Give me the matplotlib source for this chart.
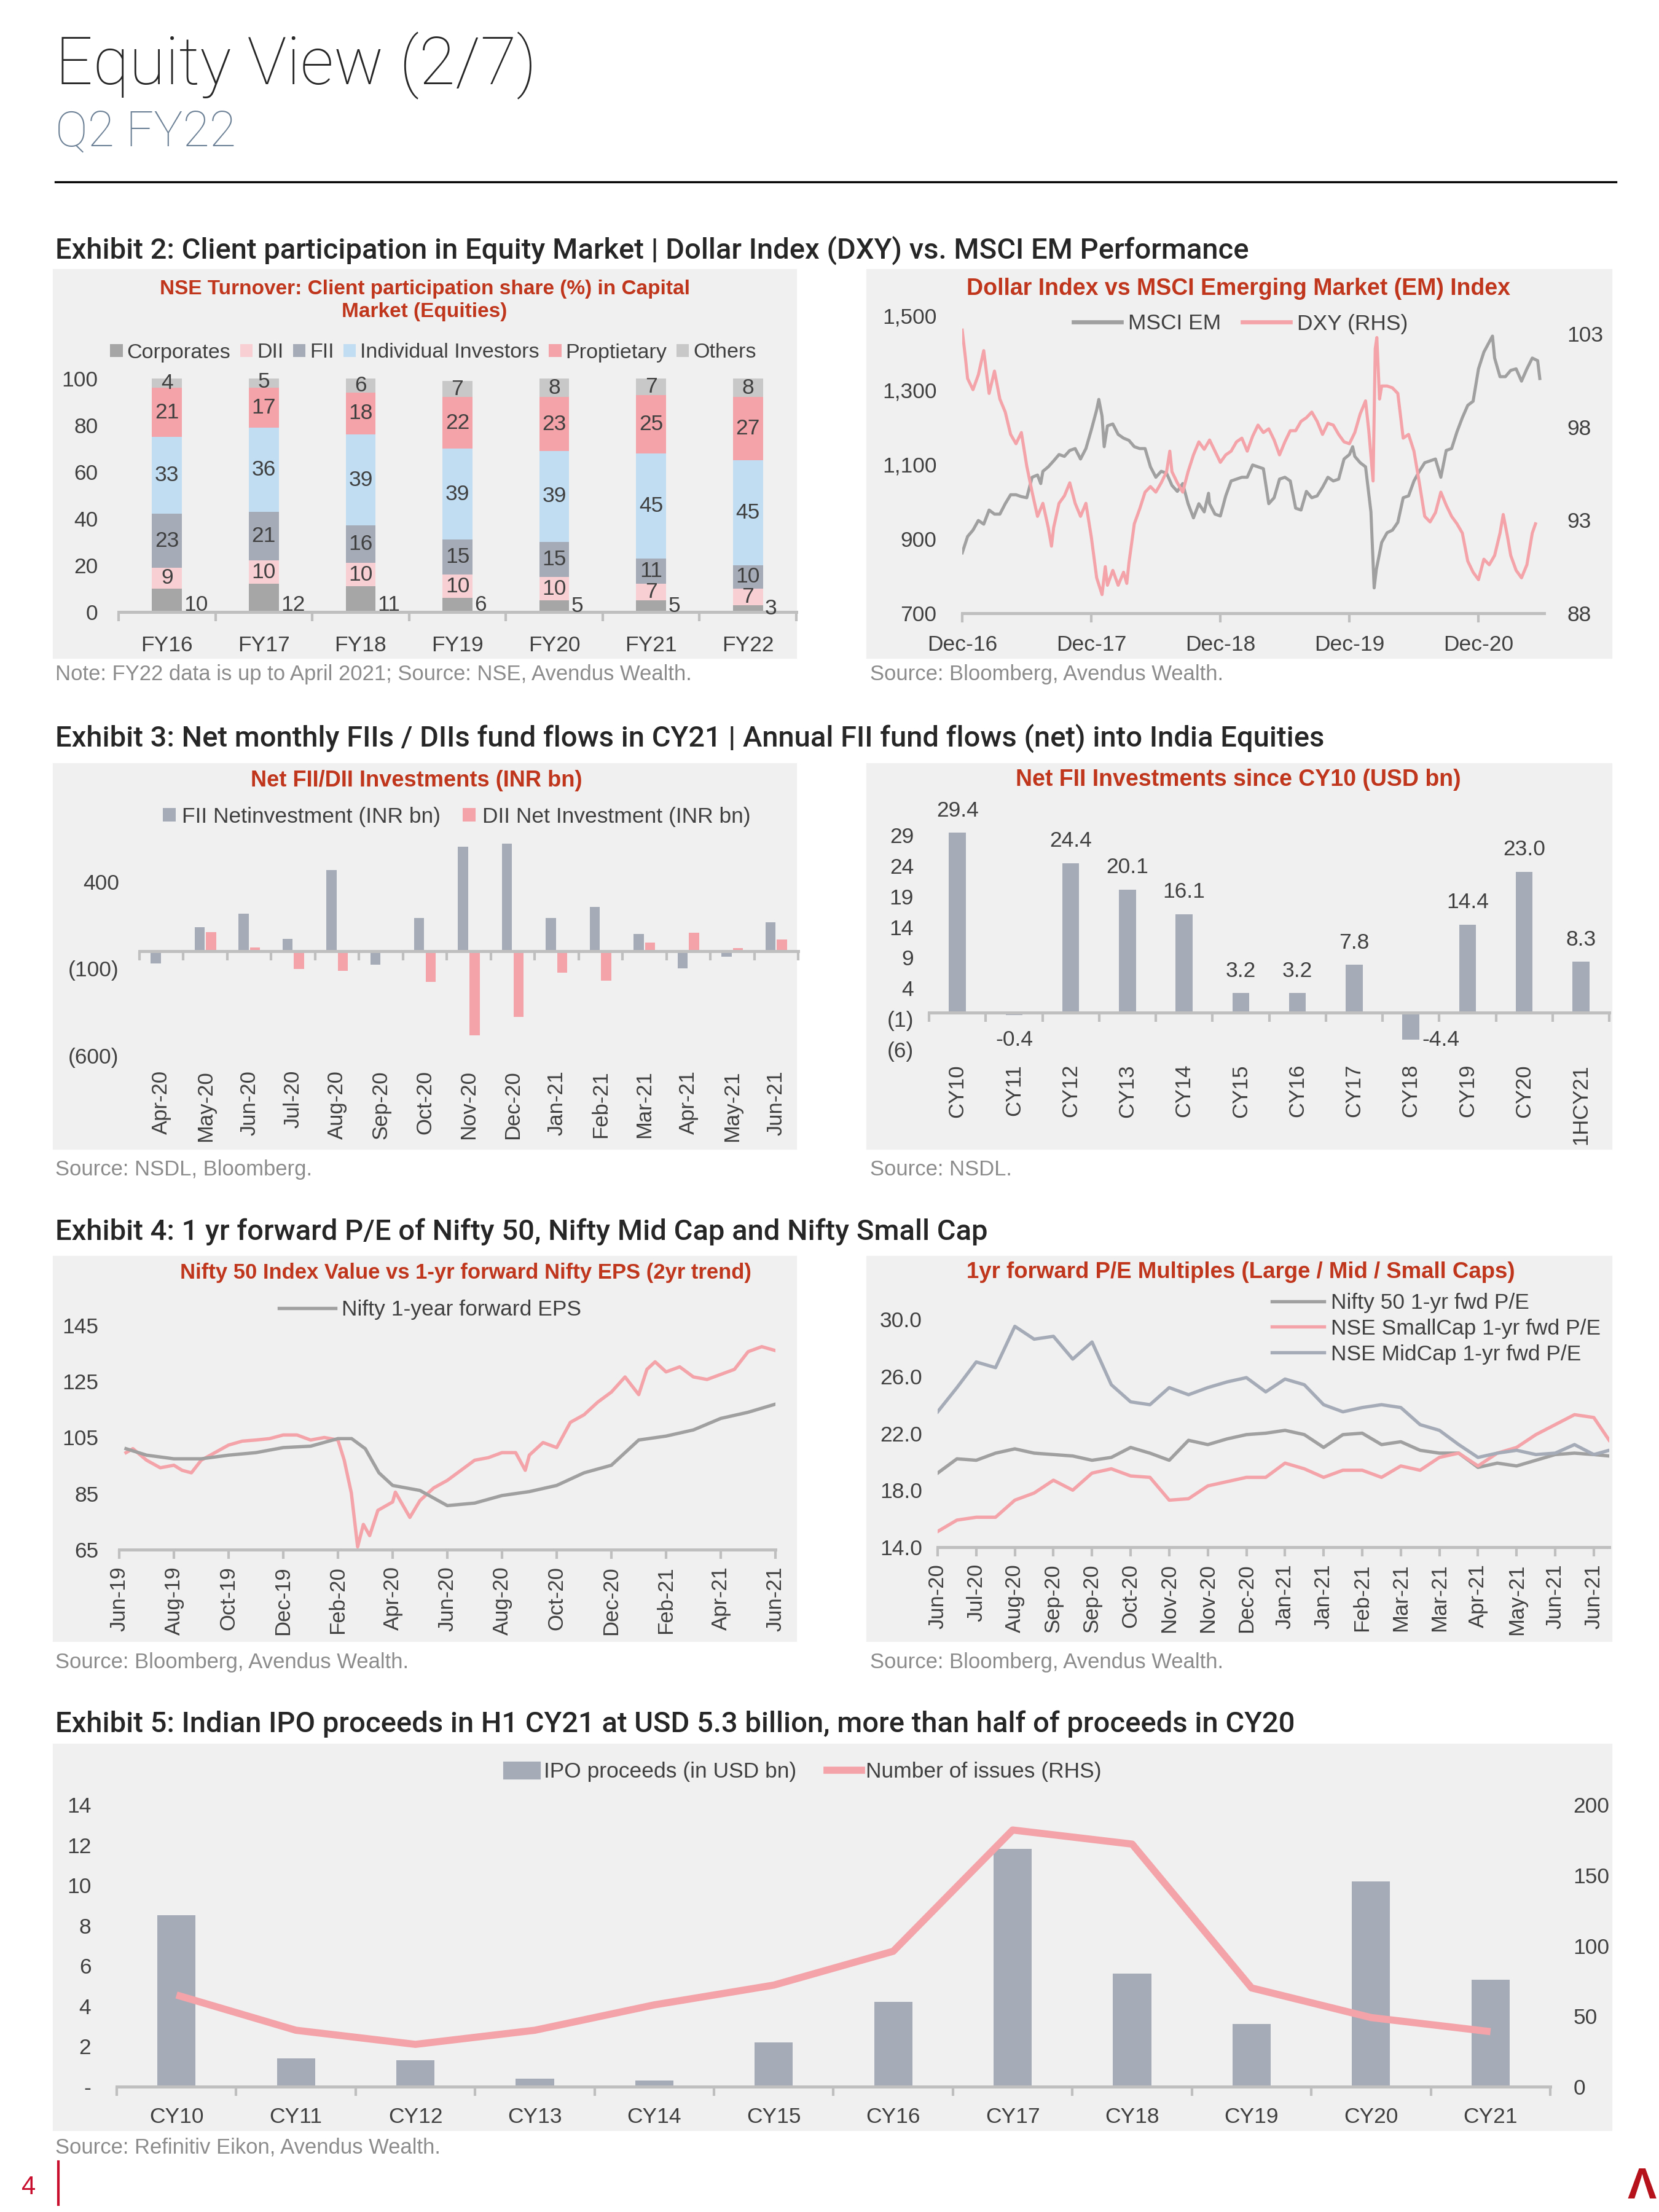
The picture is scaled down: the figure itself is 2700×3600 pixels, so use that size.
import numpy as np
import matplotlib
matplotlib.use("Agg")
import matplotlib.pyplot as plt
from matplotlib.patches import Rectangle, Patch
from matplotlib.lines import Line2D

# ---- data ----
fy_labels = ["FY16", "FY17", "FY18", "FY19", "FY20", "FY21", "FY22"]
corporates = [10, 12, 11, 6, 5, 5, 3]
dii_share = [9, 10, 10, 10, 10, 7, 7]
fii_share = [23, 21, 16, 15, 15, 11, 10]
individual = [33, 36, 39, 39, 39, 45, 45]
proprietary = [21, 17, 18, 22, 23, 25, 27]
others = [4, 5, 6, 7, 8, 7, 8]

# months after Dec-16
msci_month = [0, 0.5, 1, 1.5, 2, 2.5, 3, 3.5, 4, 4.5, 5, 5.5, 6, 6.5, 7, 7.3, 7.5, 8,
              8.5, 9, 9.5, 10, 10.5, 11, 11.5, 12, 12.5, 12.7, 13, 13.2, 13.5, 14,
              14.5, 15, 15.5, 16, 16.5, 17, 17.5, 18, 18.5, 19, 19.5, 20, 20.5, 21,
              21.5, 22, 22.5, 22.9, 23, 23.5, 24, 24.5, 25, 25.5, 26, 26.5, 27, 27.5,
              28, 28.5, 29, 29.5, 30, 30.5, 31, 31.5, 32, 32.5, 33, 33.5, 34, 34.5,
              35, 35.5, 36, 36.3, 36.5, 37, 37.5, 38, 38.3, 38.5, 39, 39.5, 40, 40.5,
              41, 41.5, 42, 42.5, 43, 43.5, 44, 44.5, 45, 45.5, 46, 46.5, 47, 47.5,
              48, 48.5, 49, 49.3, 49.5, 50, 50.5, 51, 51.5, 52, 52.5, 53, 53.5, 53.7]
msci_em = [862, 906, 923, 949, 939, 977, 966, 966, 994, 1018, 1018, 1013, 1010, 1065,
           1071, 1048, 1081, 1093, 1109, 1126, 1121, 1137, 1142, 1114, 1142, 1192,
           1246, 1274, 1229, 1147, 1203, 1208, 1180, 1170, 1164, 1147, 1142, 1142,
           1093, 1065, 1081, 1076, 1043, 1027, 1048, 994, 956, 994, 972, 1022, 994,
           966, 961, 1015, 1055, 1060, 1065, 1065, 1098, 1093, 1088, 994, 1010, 1060,
           1065, 1055, 982, 977, 1027, 1010, 1015, 1038, 1065, 1055, 1060, 1114, 1126,
           1147, 1121, 1104, 1093, 972, 768, 817, 890, 916, 923, 944, 1010, 1015, 1055,
           1081, 1104, 1109, 1114, 1065, 1137, 1142, 1187, 1225, 1258, 1269, 1356, 1401,
           1428, 1444, 1385, 1335, 1335, 1352, 1356, 1323, 1356, 1385, 1378, 1330]
dxy_month = [0, 0.3, 0.5, 1, 1.5, 2, 2.5, 3, 3.5, 4, 4.5, 5, 5.5, 6, 6.5, 7, 7.5, 8,
             8.3, 8.5, 9, 9.5, 10, 10.5, 11, 11.5, 12, 12.5, 13, 13.3, 13.5, 14, 14.5,
             15, 15.3, 15.5, 16, 16.5, 17, 17.5, 18, 18.5, 19, 19.3, 19.5, 20, 20.5,
             21, 21.5, 22, 22.5, 23, 23.5, 24, 24.5, 25, 25.5, 26, 26.5, 27, 27.5, 28,
             28.5, 29, 29.5, 30, 30.5, 31, 31.5, 32, 32.5, 33, 33.5, 34, 34.5, 35,
             35.5, 36, 36.5, 37, 37.5, 37.8, 38.2, 38.4, 38.55, 38.8, 39, 39.5, 40,
             40.5, 41, 41.5, 42, 42.5, 43, 43.5, 44, 44.5, 45, 45.5, 46, 46.5, 47,
             47.5, 48, 48.5, 49, 49.5, 50, 50.3, 50.7, 51, 51.5, 52, 52.5, 53, 53.3]
dxy = [103.2, 101.7, 100.6, 100.0, 100.8, 102.1, 99.8, 101.0, 99.5, 98.8, 97.6, 97.1,
       97.7, 95.9, 94.5, 93.2, 93.9, 92.6, 91.6, 92.6, 93.9, 94.3, 95.0, 93.9, 93.2,
       93.9, 92.1, 89.9, 89.0, 90.5, 89.5, 90.3, 89.5, 90.2, 89.6, 90.7, 92.8, 93.6,
       94.5, 94.8, 94.5, 95.0, 95.6, 96.7, 95.6, 95.0, 94.5, 95.6, 96.5, 97.2, 96.8,
       97.3, 96.7, 96.1, 96.5, 96.7, 97.2, 97.4, 96.7, 97.5, 98.1, 97.7, 97.9, 97.3,
       96.5, 97.2, 97.8, 97.8, 98.3, 98.5, 98.8, 98.3, 97.6, 98.2, 98.1, 97.6, 97.2,
       97.1, 97.7, 98.7, 99.4, 97.8, 95.1, 102.2, 102.8, 99.5, 100.2, 100.2, 100.1,
       99.8, 97.4, 97.6, 96.7, 95.0, 93.2, 92.9, 93.4, 94.5, 93.8, 93.2, 92.8, 92.3,
       90.8, 90.2, 89.8, 90.9, 90.6, 91.1, 92.3, 93.3, 92.1, 91.1, 90.3, 89.9, 90.6,
       92.3, 92.8]
dxy_ticks = ["Dec-16", "Dec-17", "Dec-18", "Dec-19", "Dec-20"]

flow_months = ["Apr-20", "May-20", "Jun-20", "Jul-20", "Aug-20", "Sep-20", "Oct-20",
               "Nov-20", "Dec-20", "Jan-21", "Feb-21", "Mar-21", "Apr-21", "May-21", "Jun-21"]
fii_net = [-70, 140, 215, 72, 467, -78, 191, 600, 617, 191, 255, 100, -100, -32, 168]
dii_net = [-8, 110, 22, -103, -113, 0, -175, -485, -377, -123, -168, 49, 107, 17, 67]

fii_years = ["CY10", "CY11", "CY12", "CY13", "CY14", "CY15", "CY16", "CY17",
             "CY18", "CY19", "CY20", "1HCY21"]
fii_usd = [29.4, -0.4, 24.4, 20.1, 16.1, 3.2, 3.2, 7.8, -4.4, 14.4, 23.0, 8.3]

# months after Jun-19
eps_month = [0.25, 1, 2, 3, 4, 5, 6, 7, 8, 8.5, 9, 9.5, 10, 11, 12, 13, 14, 15,
             16, 17, 18, 19, 20, 21, 22, 23, 24]
eps_value = [101, 98.7, 97.4, 97.4, 98.7, 99.6, 101.4, 101.9, 104.6, 104.6, 101,
             92.4, 87.9, 86.1, 80.7, 81.6, 84.3, 85.7, 87.9, 92.4, 95.1, 104.1,
             105.5, 107.7, 111.8, 114.0, 116.9]
nifty_month = [0.25, 0.5, 1, 1.5, 2, 2.3, 2.64, 3, 3.5, 4, 4.5, 5, 5.5, 6, 6.5, 7,
               7.5, 8, 8.23, 8.49, 8.72, 8.93, 9.16, 9.46, 10, 10.1, 10.63, 11, 11.5,
               12, 12.5, 13, 13.5, 14, 14.5, 14.85, 15, 15.5, 16, 16.5, 17, 17.5, 18,
               18.5, 19, 19.3, 19.6, 20, 20.5, 21, 21.5, 22, 22.5, 23, 23.5, 24]
nifty_value = [99.6, 101, 96.9, 94.2, 95.1, 93.3, 92.4, 96.9, 99.6, 102.3, 103.7,
               104.1, 104.6, 105.9, 105.9, 104.1, 105, 104.1, 96.9, 85.2, 66, 74, 70,
               79, 82, 85.5, 76.5, 82.5, 87, 89.7, 93.3, 96.9, 97.8, 99.6, 99.6, 93.3,
               98.7, 103.2, 101.4, 110.4, 113.1, 117.6, 121.2, 126.6, 120.3, 129.3,
               132, 128.4, 130.2, 126.6, 125.7, 127.5, 129.3, 135.6, 137.4, 136.0]
eps_ticks = ["Jun-19", "Aug-19", "Oct-19", "Dec-19", "Feb-20", "Apr-20", "Jun-20",
             "Aug-20", "Oct-20", "Dec-20", "Feb-21", "Apr-21", "Jun-21"]

pe_ticks = ["Jun-20", "Jul-20", "Aug-20", "Sep-20", "Sep-20", "Oct-20", "Nov-20",
            "Nov-20", "Dec-20", "Jan-21", "Jan-21", "Feb-21", "Mar-21", "Mar-21",
            "Apr-21", "May-21", "Jun-21", "Jun-21"]
pe_pos = [0, 0.5, 1, 1.5, 2, 2.5, 3, 3.5, 4, 4.5, 5, 5.5, 6, 6.5, 7, 7.5, 8, 8.5,
          9, 9.5, 10, 10.5, 11, 11.5, 12, 12.5, 13, 13.5, 14, 14.5, 15, 15.5, 16,
          16.5, 17, 17.4]
nifty_pe = [19.2, 20.2, 20.1, 20.6, 20.9, 20.6, 20.5, 20.4, 20.1, 20.3, 21.0, 20.6,
            20.1, 21.5, 21.2, 21.6, 21.9, 22.0, 22.2, 21.9, 21.0, 21.9, 22.0, 21.2,
            21.4, 20.8, 20.6, 20.6, 19.6, 19.9, 19.7, 20.1, 20.5, 20.6, 20.5, 20.4]
smallcap_pe = [15.1, 15.9, 16.1, 16.1, 17.3, 17.8, 18.7, 18.0, 19.2, 19.5, 19.0,
               18.9, 17.3, 17.4, 18.3, 18.6, 18.9, 18.9, 19.9, 19.5, 18.9, 19.4,
               19.4, 18.9, 19.7, 19.4, 20.3, 20.6, 19.7, 20.6, 21.0, 21.9, 22.6,
               23.3, 23.1, 21.5]
midcap_pe = [23.5, 25.2, 27.0, 26.6, 29.5, 28.6, 28.8, 27.2, 28.4, 25.4, 24.2, 24.0,
             25.2, 24.7, 25.2, 25.6, 25.9, 24.9, 25.8, 25.4, 24.0, 23.5, 23.8, 24.0,
             23.8, 22.6, 22.2, 21.2, 20.3, 20.6, 20.8, 20.5, 20.6, 21.2, 20.5, 20.8]

ipo_years = ["CY10", "CY11", "CY12", "CY13", "CY14", "CY15", "CY16", "CY17",
             "CY18", "CY19", "CY20", "CY21"]
ipo_proceeds = [8.5, 1.4, 1.3, 0.4, 0.3, 2.2, 4.2, 11.8, 5.6, 3.1, 10.2, 5.3]
ipo_issues = [65, 40, 30, 40, 58, 72, 96, 182, 172, 70, 49, 39]

# ---- style ----
W, H = 2700, 3600
PX_PT = 72 / 300
REG = ["Liberation Sans", "DejaVu Sans"]
HEAD = ["Roboto", "DejaVu Sans"]
TXT = "#404040"
AXC = "#bfbfbf"
BG = "#f0f0f0"
RED = "#c0361d"
SRC = "#8c8c8c"
C_GRAY = "#a6a6a6"
C_LINE = "#a0a0a0"
C_BLUEGRAY = "#a5acb8"
C_PINK = "#f4a3a8"
C_LPINK = "#f8d0d3"
C_LBLUE = "#c0ddf2"
C_LGRAY = "#c8c8c8"
FS = 8.5

plt.rcParams["font.family"] = REG


def box(x0, y0, x1, y1):
    return [x0 / W, 1 - y1 / H, (x1 - x0) / W, (y1 - y0) / H]


def fx(x):
    return x / W


def fy(y):
    return 1 - y / H


def clean(ax):
    for s in ax.spines.values():
        s.set_visible(False)
    ax.patch.set_visible(False)


def base_axis(ax):
    ax.spines["bottom"].set_visible(True)
    ax.spines["bottom"].set_color(AXC)
    ax.spines["bottom"].set_linewidth(1.2)


def panel(fig, x0, y0, x1, y1):
    fig.add_artist(Rectangle((fx(x0), fy(y1)), (x1 - x0) / W, (y1 - y0) / H,
                             transform=fig.transFigure, color=BG, zorder=0))


def chart_title(fig, x, y, s, size=9, spacing=1.15):
    fig.text(fx(x), fy(y), s, ha="center", va="center", color=RED, fontsize=size,
             fontweight="bold", linespacing=spacing)


def header(fig, y, s):
    fig.text(fx(90), fy(y), s, ha="left", va="center", fontsize=11.3,
             fontweight="medium", family=HEAD, color="#262626")


def source(fig, x, y, s):
    fig.text(fx(x), fy(y), s, ha="left", va="center", fontsize=8.3, color=SRC)


fig = plt.figure(figsize=(9, 12), dpi=300)
fig.patch.set_facecolor("white")

# ---- page header ----
fig.text(fx(90), fy(137), "Equity View (2/7)", fontsize=25.8, family=HEAD,
         fontweight="light", color="#262626", va="baseline")
fig.text(fx(90), fy(238), "Q2 FY22", fontsize=19, family=HEAD,
         fontweight="light", color="#6d8196", va="baseline")
fig.add_artist(Line2D([fx(90), fx(2630)], [fy(296), fy(296)], color="black", lw=0.8))

for (x0, x1) in [(88, 1295), (1412, 2622)]:
    panel(fig, x0, 440, x1, 1070)
    panel(fig, x0, 1244, x1, 1869)
    panel(fig, x0, 2046, x1, 2670)
panel(fig, 88, 2840, 2622, 3466)

header(fig, 408, "Exhibit 2: Client participation in Equity Market | Dollar Index (DXY) vs. MSCI EM Performance")
header(fig, 1202, "Exhibit 3: Net monthly FIIs / DIIs fund flows in CY21 | Annual FII fund flows (net) into India Equities")
header(fig, 2005, "Exhibit 4: 1 yr forward P/E of Nifty 50, Nifty Mid Cap and Nifty Small Cap")
header(fig, 2806, "Exhibit 5: Indian IPO proceeds in H1 CY21 at USD 5.3 billion, more than half of proceeds in CY20")

source(fig, 90, 1098, "Note: FY22 data is up to April 2021; Source: NSE, Avendus Wealth.")
source(fig, 1416, 1098, "Source: Bloomberg, Avendus Wealth.")
source(fig, 90, 1904, "Source: NSDL, Bloomberg.")
source(fig, 1416, 1904, "Source: NSDL.")
source(fig, 90, 2705, "Source: Bloomberg, Avendus Wealth.")
source(fig, 1416, 2705, "Source: Bloomberg, Avendus Wealth.")
source(fig, 90, 3495, "Source: Refinitiv Eikon, Avendus Wealth.")

# ---- Exhibit 2 left: stacked shares ----
ax = fig.add_axes(box(193, 616, 1296, 996))
clean(ax)
base_axis(ax)
x = np.arange(len(fy_labels))
bottom = np.zeros(len(x))
series = [("Corporates", corporates, C_GRAY), ("DII", dii_share, C_LPINK),
          ("FII", fii_share, C_BLUEGRAY), ("Individual Investors", individual, C_LBLUE),
          ("Proptietary", proprietary, C_PINK), ("Others", others, C_LGRAY)]
bw = 0.31
for name, vals, col in series:
    ax.bar(x, vals, bw, bottom=bottom, color=col, label=name)
    for xi, b, v in zip(x, bottom, vals):
        if name == "Corporates":
            ax.text(xi + bw / 2 + 0.02, min(v / 2, 3), str(v), ha="left", va="center",
                    fontsize=FS, color=TXT)
        else:
            ax.text(xi, b + v / 2, str(v), ha="center", va="center", fontsize=FS, color=TXT)
    bottom += np.array(vals)
ax.set_xlim(-0.5, len(x) - 0.5)
ax.set_ylim(0, 100)
ax.set_xticks(x, fy_labels)
ax.set_xticks(np.arange(len(x) + 1) - 0.5, minor=True)
ax.tick_params(axis="x", which="major", length=0, pad=9, labelsize=FS, labelcolor=TXT)
ax.tick_params(axis="x", which="minor", length=3.5, width=1, color=AXC)
ax.set_yticks(range(0, 101, 20))
ax.tick_params(axis="y", length=0, pad=8, labelsize=FS, labelcolor=TXT)
ax.legend(loc="center", bbox_to_anchor=(fx(705), fy(574)), bbox_transform=fig.transFigure,
          ncol=6, frameon=False, fontsize=8.2, handlelength=0.6, handleheight=0.6,
          handletextpad=0.2, columnspacing=0.45, labelcolor=TXT)
chart_title(fig, 691, 489, "NSE Turnover: Client participation share (%) in Capital\nMarket (Equities)",
            size=8.0, spacing=1.28)

# ---- Exhibit 2 right: DXY vs MSCI EM ----
ax = fig.add_axes(box(1566, 513, 2513, 998))
clean(ax)
base_axis(ax)
ax.plot(msci_month, msci_em, color=C_LINE, lw=1.2)
ax.set_ylim(700, 1500)
ax.set_yticks([700, 900, 1100, 1300, 1500], ["700", "900", "1,100", "1,300", "1,500"])
ax.tick_params(axis="y", length=0, pad=10, labelsize=FS, labelcolor=TXT)
ax.set_xlim(0, 54.1)
ax.set_xticks(np.arange(len(dxy_ticks)) * 12, dxy_ticks)
ax.tick_params(axis="x", length=3.5, width=1, color=AXC, pad=5, labelsize=FS, labelcolor=TXT)
ax2 = ax.twinx()
clean(ax2)
ax2.plot(dxy_month, dxy, color=C_PINK, lw=1.2)
ax2.set_ylim(88, 104)
ax2.set_yticks([88, 93, 98, 103])
ax2.tick_params(axis="y", length=0, pad=9, labelsize=FS, labelcolor=TXT)
ax.legend(handles=[Line2D([], [], color=C_LINE, lw=1.6, label="MSCI EM"),
                   Line2D([], [], color=C_PINK, lw=1.6, label="DXY (RHS)")],
          loc="center", bbox_to_anchor=(fx(2019), fy(527)), bbox_transform=fig.transFigure,
          ncol=2, frameon=False, fontsize=FS, handlelength=2.2, handletextpad=0.3,
          columnspacing=1.0, labelcolor=TXT)
chart_title(fig, 2015, 470, "Dollar Index vs MSCI Emerging Market (EM) Index")


def paren(v):
    return f"({abs(v):,})" if v < 0 else f"{v:,}"


def zero_axis(ax, n, top_px, bottom_px, lo, hi, label_gap_px):
    # category axis drawn on the zero line, labels kept at the bottom of the plot
    ax.spines["bottom"].set_visible(True)
    ax.spines["bottom"].set_position(("data", 0))
    ax.spines["bottom"].set_color(AXC)
    ax.spines["bottom"].set_linewidth(1.2)
    ax.set_xticks(np.arange(n + 1) - 0.5, minor=True)
    ax.tick_params(axis="x", which="minor", length=3.5, width=1, color=AXC)
    zero_px = top_px + (hi - 0) / (hi - lo) * (bottom_px - top_px)
    pad = (bottom_px - zero_px + label_gap_px) * PX_PT
    ax.tick_params(axis="x", which="major", length=0, pad=pad, labelrotation=90,
                   labelsize=8.3, labelcolor=TXT)


# ---- Exhibit 3 left: FII / DII monthly ----
ax = fig.add_axes(box(227, 1350, 1299, 1718))
clean(ax)
n = len(flow_months)
x = np.arange(n)
ax.bar(x - 0.13, fii_net, 0.23, color=C_BLUEGRAY, label="FII Netinvestment (INR bn)")
ax.bar(x + 0.13, dii_net, 0.23, color=C_PINK, label="DII Net Investment (INR bn)")
ax.set_xlim(-0.5, n - 0.5)
ax.set_ylim(-600, 700)
ax.set_xticks(x, flow_months)
zero_axis(ax, n, 1350, 1718, -600, 700, 24)
ax.set_yticks([-600, -100, 400], [paren(v) for v in [-600, -100, 400]])
ax.tick_params(axis="y", length=0, pad=8, labelsize=FS, labelcolor=TXT)
ax.legend(loc="center", bbox_to_anchor=(fx(743), fy(1329)), bbox_transform=fig.transFigure,
          ncol=2, frameon=False, fontsize=FS, handlelength=0.6, handleheight=0.6,
          handletextpad=0.3, columnspacing=1.0, labelcolor=TXT)
chart_title(fig, 678, 1271, "Net FII/DII Investments (INR bn)", size=8.7)

# ---- Exhibit 3 right: annual FII ----
ax = fig.add_axes(box(1512, 1319, 2619, 1718))
clean(ax)
n = len(fii_years)
x = np.arange(n)
ax.bar(x, fii_usd, 0.3, color=C_BLUEGRAY)
ax.set_xlim(-0.5, n - 0.5)
ax.set_ylim(-7, 33)
ax.set_xticks(x, fii_years)
zero_axis(ax, n, 1319, 1718, -7, 33, 14)
ax.set_yticks(range(-6, 30, 5), [paren(v) for v in range(-6, 30, 5)])
ax.tick_params(axis="y", length=0, pad=6, labelsize=FS, labelcolor=TXT)
for xi, v in zip(x, fii_usd):
    if v >= 0:
        ax.annotate(f"{v:.1f}", (xi, v), xytext=(0, 8.6), textcoords="offset points",
                    ha="center", va="center", fontsize=FS, color=TXT)
    elif v > -2:
        ax.annotate(f"{v:.1f}", (xi, v), xytext=(0, -9.8), textcoords="offset points",
                    ha="center", va="center", fontsize=FS, color=TXT)
    else:
        ax.annotate(f"{v:.1f}", (xi + 0.15, v), xytext=(1, 0), textcoords="offset points",
                    ha="left", va="center", fontsize=FS, color=TXT)
chart_title(fig, 2015, 1269, "Net FII Investments since CY10 (USD bn)")

# ---- Exhibit 4 left: Nifty vs EPS ----
ax = fig.add_axes(box(194, 2157, 1262, 2522))
clean(ax)
base_axis(ax)
ax.plot(nifty_month, nifty_value, color=C_PINK, lw=1.3)
ax.plot(eps_month, eps_value, color=C_LINE, lw=1.3, label="Nifty 1-year forward EPS")
ax.set_xlim(0, 24)
ax.set_ylim(65, 145)
ax.set_yticks([65, 85, 105, 125, 145])
ax.tick_params(axis="y", length=0, pad=8, labelsize=FS, labelcolor=TXT)
ax.set_xticks(np.arange(len(eps_ticks)) * 2, eps_ticks)
ax.tick_params(axis="x", length=3.5, width=1, color=AXC, pad=3, labelrotation=90,
               labelsize=8.3, labelcolor=TXT)
ax.legend(loc="center", bbox_to_anchor=(fx(700), fy(2132)), bbox_transform=fig.transFigure,
          frameon=False, fontsize=FS, handlelength=2.6, handletextpad=0.3, labelcolor=TXT)
chart_title(fig, 758, 2071, "Nifty 50 Index Value vs 1-yr forward Nifty EPS (2yr trend)", size=8.3)

# ---- Exhibit 4 right: P/E multiples ----
ax = fig.add_axes(box(1526, 2147, 2619, 2518))
clean(ax)
base_axis(ax)
ax.plot(pe_pos, nifty_pe, color=C_LINE, lw=1.3, label="Nifty 50 1-yr fwd P/E")
ax.plot(pe_pos, smallcap_pe, color=C_PINK, lw=1.3, label="NSE SmallCap 1-yr fwd P/E")
ax.plot(pe_pos, midcap_pe, color=C_BLUEGRAY, lw=1.3, label="NSE MidCap 1-yr fwd P/E")
ax.set_xlim(0, pe_pos[-1])
ax.set_ylim(14, 30)
ax.set_yticks([14, 18, 22, 26, 30], ["14.0", "18.0", "22.0", "26.0", "30.0"])
ax.tick_params(axis="y", length=0, pad=6, labelsize=FS, labelcolor=TXT)
ax.set_xticks(np.arange(len(pe_ticks)), pe_ticks)
ax.tick_params(axis="x", length=3.5, width=1, color=AXC, pad=3, labelrotation=90,
               labelsize=8.3, labelcolor=TXT)
ax.legend(loc="upper left", bbox_to_anchor=(fx(2070), fy(2104)), bbox_transform=fig.transFigure,
          frameon=False, fontsize=FS, handlelength=2.4, handletextpad=0.3,
          labelspacing=0.25, labelcolor=TXT, borderaxespad=0, borderpad=0)
chart_title(fig, 2019, 2071, "1yr forward P/E Multiples (Large / Mid / Small Caps)", size=8.8)

# ---- Exhibit 5: IPO proceeds ----
ax = fig.add_axes(box(190, 2937, 2523, 3396))
clean(ax)
base_axis(ax)
n = len(ipo_years)
x = np.arange(n)
ax.bar(x, ipo_proceeds, 0.32, color=C_BLUEGRAY)
ax.set_xlim(-0.5, n - 0.5)
ax.set_ylim(0, 14)
ax.set_xticks(x, ipo_years)
ax.set_xticks(np.arange(n + 1) - 0.5, minor=True)
ax.tick_params(axis="x", which="major", length=0, pad=8, labelsize=FS, labelcolor=TXT)
ax.tick_params(axis="x", which="minor", length=3.5, width=1, color=AXC)
ax.set_yticks(range(0, 15, 2), ["-"] + [str(v) for v in range(2, 15, 2)])
ax.tick_params(axis="y", length=0, pad=10, labelsize=FS, labelcolor=TXT)
ax2 = ax.twinx()
clean(ax2)
ax2.plot(x, ipo_issues, color=C_PINK, lw=2.8, solid_capstyle="butt")
ax2.set_ylim(0, 200)
ax2.set_yticks(range(0, 201, 50))
ax2.tick_params(axis="y", length=0, pad=9, labelsize=FS, labelcolor=TXT)
ax.legend(handles=[Patch(color=C_BLUEGRAY, label="IPO proceeds (in USD bn)"),
                   Line2D([], [], color=C_PINK, lw=2.8, label="Number of issues (RHS)")],
          loc="center", bbox_to_anchor=(fx(1307), fy(2884)), bbox_transform=fig.transFigure,
          ncol=2, frameon=False, fontsize=FS, handlelength=1.6, handleheight=0.7,
          handletextpad=0.2, columnspacing=1.4, labelcolor=TXT)

# ---- footer ----
fig.text(fx(47), fy(3560), "4", color="#c8102e", fontsize=10,
         ha="center", va="center")
fig.add_artist(Line2D([fx(95), fx(95)], [fy(3518), fy(3588)], color="#c8102e", lw=1.0))
fig.text(fx(2672), fy(3560), "\u039b", color="#b5121b", fontsize=17, fontweight="bold",
         ha="center", va="center")

fig.savefig("out.png", dpi=300, facecolor="white")
